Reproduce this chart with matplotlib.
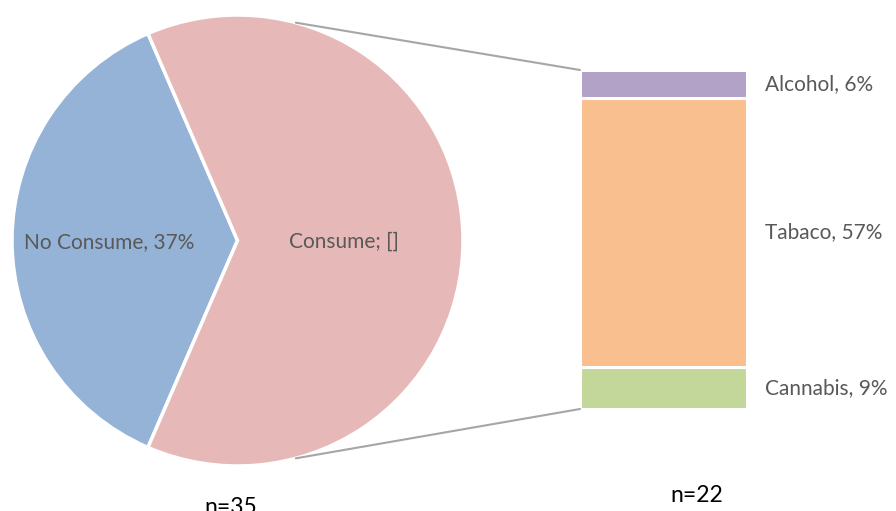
import numpy as np
import matplotlib.pyplot as plt
from matplotlib.patches import ConnectionPatch

# Pie: overall consumption split
pie_labels = ["No Consume", "Consume"]
pie_values = [37, 63]
pie_texts = ["No Consume, 37%", "Consume; []"]
pie_colors = ["#95B3D7", "#E6B9B8"]

# Bar: breakdown of substances among consumers
bar_labels = ["Cannabis", "Tabaco", "Alcohol"]
bar_values = [9, 57, 6]
bar_colors = ["#C4D79B", "#F9BF8F", "#B3A2C7"]

n_pie = "n=35"
n_bar = "n=22"

plt.rcParams['font.family'] = ['Lato', 'DejaVu Sans']
TXT = "#595959"

W, H = 896, 511
fig = plt.figure(figsize=(W / 100, H / 100), dpi=100)

# pie axes
ax_pie = fig.add_axes([12 / W, 45 / H, 451 / W, 451 / H])
blue_span = 360 * pie_values[0] / sum(pie_values)
start = 180 - blue_span / 2
wedges, _ = ax_pie.pie(pie_values, colors=pie_colors, startangle=start,
                       counterclock=True, radius=1,
                       wedgeprops=dict(edgecolor="white", linewidth=2.5))
ax_pie.set_xlim(-1.0, 1.0)
ax_pie.set_ylim(-1.0, 1.0)
ax_pie.set_aspect("equal")
ax_pie.axis("off")

label_r = [0.57, 0.47]
for w, txt, r in zip(wedges, pie_texts, label_r):
    mid = np.deg2rad((w.theta1 + w.theta2) / 2)
    ax_pie.text(r * np.cos(mid), r * np.sin(mid) - 0.005, txt, ha="center",
                va="center", fontsize=15, color=TXT)

# stacked bar axes
ax_bar = fig.add_axes([580 / W, 102 / H, 167 / W, 339 / H])
bottom = 0
for lab, val, col in zip(bar_labels, bar_values, bar_colors):
    ax_bar.bar(0, val, width=1, bottom=bottom, color=col,
               edgecolor="white", linewidth=2.2)
    ax_bar.text(0.61, bottom + val / 2, f"{lab}, {val}%", ha="left",
                va="center", fontsize=15, color=TXT, clip_on=False)
    bottom += val
ax_bar.set_xlim(-0.5, 0.5)
ax_bar.set_ylim(0, sum(bar_values))
ax_bar.axis("off")

# connector lines from the consume slice to the bar
for ang, yb in [(75, sum(bar_values)), (-75, 0)]:
    a = np.deg2rad(ang)
    con = ConnectionPatch(xyA=(np.cos(a), np.sin(a)), coordsA=ax_pie.transData,
                          xyB=(-0.5, yb), coordsB=ax_bar.transData,
                          color="#A6A6A6", linewidth=1.5)
    fig.add_artist(con)

fig.text(231 / W, 1 - 507 / H, n_pie, ha="center", va="center",
         fontsize=16.5, color="black")
fig.text(697 / W, 1 - 495 / H, n_bar, ha="center", va="center",
         fontsize=16.5, color="black")

fig.savefig("out.png", dpi=100, facecolor="white")
